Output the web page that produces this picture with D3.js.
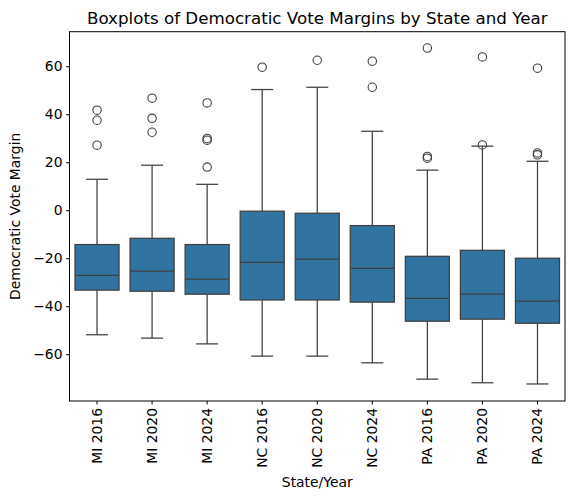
<!DOCTYPE html>
<html>
<head>
<meta charset="utf-8">
<script src="https://cdn.jsdelivr.net/npm/d3@7"></script>
<style>
  body { margin: 0; background: #fff; }
  text { font-family: "DejaVu Sans", sans-serif; fill: #000; }
</style>
</head>
<body>
<div id="chart"></div>
<script>
// Categories and box statistics
const categories = ['MI 2016', 'MI 2020', 'MI 2024', 'NC 2016', 'NC 2020', 'NC 2024', 'PA 2016', 'PA 2020', 'PA 2024'];
const whiskerLow = [-51.9, -53.3, -55.7, -60.8, -60.8, -63.6, -70.4, -71.9, -72.4];
const q1 = [-33.3, -33.75, -35.0, -37.4, -37.4, -38.3, -46.25, -45.4, -47.1];
const median = [-27.1, -25.4, -28.75, -21.7, -20.4, -24.2, -36.7, -35.0, -37.9];
const q3 = [-14.3, -11.7, -14.3, -0.4, -1.25, -6.4, -19.2, -16.7, -20.0];
const whiskerHigh = [12.9, 18.75, 10.8, 50.3, 51.25, 32.9, 16.7, 26.7, 20.4];
const outliers = [
    [41.7, 37.5, 27.1],
    [46.7, 38.3, 32.5],
    [44.7, 29.9, 29.2, 18.0],
    [59.6],
    [62.5],
    [62.1, 51.25],
    [67.6, 22.4, 21.7],
    [63.9, 27.2],
    [59.2, 23.9, 23.1]
];
const yTicks = [-60, -40, -20, 0, 20, 40, 60];

const width = 574, height = 500;
const margin = { top: 31.7, right: 9, bottom: 99, left: 69.5 };
const boxFill = '#3274a1';
const lineColor = '#3f3f3f';

const svg = d3.select('#chart')
    .append('svg')
    .attr('width', width)
    .attr('height', height);

const x = d3.scaleBand()
    .domain(categories)
    .range([margin.left, width - margin.right])
    .padding(0);

const y = d3.scaleLinear()
    .domain([-79.5, 74.4])
    .range([height - margin.bottom, margin.top]);

const boxW = x.bandwidth() * 0.8;
const capW = boxW * 0.5;

const rows = categories.map((c, i) => ({
    cat: c,
    lo: whiskerLow[i], q1: q1[i], med: median[i], q3: q3[i], hi: whiskerHigh[i],
    out: outliers[i]
}));

const g = svg.append('g');

rows.forEach(d => {
    const cx = x(d.cat) + x.bandwidth() / 2;
    const box = g.append('g');

    // Whiskers
    box.append('line')
        .attr('x1', cx).attr('x2', cx)
        .attr('y1', y(d.q1)).attr('y2', y(d.lo))
        .attr('stroke', lineColor).attr('stroke-width', 1.25);
    box.append('line')
        .attr('x1', cx).attr('x2', cx)
        .attr('y1', y(d.q3)).attr('y2', y(d.hi))
        .attr('stroke', lineColor).attr('stroke-width', 1.25);

    // Caps
    [d.lo, d.hi].forEach(v => {
        box.append('line')
            .attr('x1', cx - capW / 2).attr('x2', cx + capW / 2)
            .attr('y1', y(v)).attr('y2', y(v))
            .attr('stroke', lineColor).attr('stroke-width', 1.25);
    });

    // Box
    box.append('rect')
        .attr('x', cx - boxW / 2)
        .attr('y', y(d.q3))
        .attr('width', boxW)
        .attr('height', y(d.q1) - y(d.q3))
        .attr('fill', boxFill)
        .attr('stroke', lineColor)
        .attr('stroke-width', 1.25);

    // Median
    box.append('line')
        .attr('x1', cx - boxW / 2).attr('x2', cx + boxW / 2)
        .attr('y1', y(d.med)).attr('y2', y(d.med))
        .attr('stroke', lineColor).attr('stroke-width', 1.25);

    // Outliers
    box.selectAll('circle')
        .data(d.out)
        .enter().append('circle')
        .attr('cx', cx)
        .attr('cy', v => y(v))
        .attr('r', 4.2)
        .attr('fill', 'none')
        .attr('stroke', lineColor)
        .attr('stroke-width', 1.1);
});

// Axes frame
svg.append('rect')
    .attr('x', margin.left)
    .attr('y', margin.top)
    .attr('width', width - margin.right - margin.left)
    .attr('height', height - margin.bottom - margin.top)
    .attr('fill', 'none')
    .attr('stroke', '#000')
    .attr('stroke-width', 1);

// Y axis
const yAxis = svg.append('g')
    .attr('transform', `translate(${margin.left},0)`)
    .call(d3.axisLeft(y).tickValues(yTicks).tickSize(3.5).tickPadding(3.5)
        .tickFormat(d => d < 0 ? '\u2212' + Math.abs(d) : d));
yAxis.select('.domain').remove();
yAxis.selectAll('text').style('font-size', '13.9px').attr('font-family', 'DejaVu Sans');
yAxis.selectAll('line').attr('stroke', '#000');

// X axis
const xAxis = svg.append('g')
    .attr('transform', `translate(0,${height - margin.bottom})`)
    .call(d3.axisBottom(x).tickSize(3.5).tickPadding(3.5));
xAxis.select('.domain').remove();
xAxis.selectAll('line').attr('stroke', '#000');
xAxis.selectAll('text')
    .style('font-size', '13.9px')
    .attr('font-family', 'DejaVu Sans')
    .attr('text-anchor', 'end')
    .attr('dy', '0.35em')
    .attr('transform', 'translate(0,7) rotate(-90)')
    .attr('x', 0)
    .attr('y', 0);

// Title
svg.append('text')
    .attr('x', (margin.left + width - margin.right) / 2)
    .attr('y', 24)
    .attr('text-anchor', 'middle')
    .style('font-size', '16.7px')
    .text('Boxplots of Democratic Vote Margins by State and Year');

// Axis labels
svg.append('text')
    .attr('x', (margin.left + width - margin.right) / 2)
    .attr('y', 487)
    .attr('text-anchor', 'middle')
    .style('font-size', '13.9px')
    .text('State/Year');

svg.append('text')
    .attr('transform', `translate(20,${(margin.top + height - margin.bottom) / 2}) rotate(-90)`)
    .attr('text-anchor', 'middle')
    .style('font-size', '13.9px')
    .text('Democratic Vote Margin');
</script>
</body>
</html>
